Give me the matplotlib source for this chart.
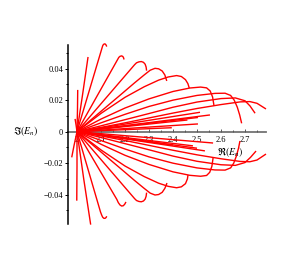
import matplotlib
matplotlib.use('Agg')
import matplotlib.pyplot as plt
from matplotlib.ticker import MultipleLocator

plt.rcParams['font.family'] = ['Liberation Serif', 'DejaVu Serif']
plt.rcParams['mathtext.fontset'] = 'stix'

# common start point of every trajectory
origin_x = 2.0
origin_y = 0.0

# upper fan (each ends in a hook)
up_x = [
    [2.0, 1.996, 1.992],
    [2.0, 2.002, 2.003],
    [2.0, 2.023, 2.046],
    [2.0, 2.104, 2.107, 2.110, 2.114, 2.118, 2.121, 2.124],
    [2.0, 2.170, 2.174, 2.179, 2.186, 2.191, 2.194, 2.196],
    [2.0, 2.240, 2.248, 2.258, 2.268, 2.277, 2.284, 2.288, 2.290],
    [2.0, 2.10, 2.18, 2.24, 2.28, 2.305, 2.325, 2.340, 2.355, 2.366, 2.374],
    [2.0, 2.10, 2.20, 2.28, 2.34, 2.38, 2.415, 2.435, 2.452, 2.462, 2.468],
    [2.0, 2.10, 2.20, 2.30, 2.40, 2.47, 2.515, 2.540, 2.555, 2.565, 2.571],
    [2.0, 2.10, 2.20, 2.30, 2.40, 2.50, 2.575, 2.617, 2.640, 2.655, 2.668, 2.678, 2.686],
    [2.0, 2.10, 2.20, 2.30, 2.40, 2.50, 2.60, 2.660, 2.700, 2.721, 2.742],
    [2.0, 2.10, 2.20, 2.30, 2.40, 2.50, 2.60, 2.68, 2.72, 2.75, 2.7875],
]
up_y = [
    [0, 0.0043, 0.0081],
    [0, 0.0138, 0.0265],
    [0, 0.0233, 0.0474],
    [0, 0.0530, 0.0545, 0.0553, 0.0557, 0.0556, 0.0550, 0.0540],
    [0, 0.0460, 0.0471, 0.0478, 0.0481, 0.0477, 0.0469, 0.0458],
    [0, 0.0425, 0.0437, 0.0443, 0.0445, 0.0440, 0.0428, 0.0410, 0.0387],
    [0, 0.0129, 0.0232, 0.0310, 0.0360, 0.0390, 0.0402, 0.0399, 0.0385, 0.0360, 0.0322],
    [0, 0.0116, 0.0218, 0.0285, 0.0327, 0.0347, 0.0356, 0.0350, 0.0330, 0.0305, 0.0276],
    [0, 0.0080, 0.0150, 0.0208, 0.0255, 0.0277, 0.0283, 0.0278, 0.0258, 0.0220, 0.0163],
    [0, 0.0056, 0.0110, 0.0160, 0.0200, 0.0230, 0.0243, 0.0244, 0.0230, 0.0200, 0.0155, 0.0105, 0.0053],
    [0, 0.0037, 0.0076, 0.0115, 0.0155, 0.0188, 0.0210, 0.0214, 0.0196, 0.0163, 0.0117],
    [0, 0.0027, 0.0056, 0.0087, 0.0118, 0.0147, 0.0172, 0.0189, 0.0191, 0.0180, 0.0144],
]

# lower fan
low_x = [
    [2.0, 1.988, 1.978],
    [2.0, 2.000, 1.999],
    [2.0, 2.028, 2.057],
    [2.0, 2.098, 2.103, 2.107, 2.112, 2.117, 2.121, 2.124],
    [2.0, 2.166, 2.172, 2.179, 2.186, 2.193, 2.199, 2.204],
    [2.0, 2.240, 2.248, 2.258, 2.268, 2.277, 2.284, 2.288, 2.290],
    [2.0, 2.10, 2.18, 2.24, 2.28, 2.305, 2.325, 2.340, 2.355, 2.366, 2.375],
    [2.0, 2.10, 2.20, 2.28, 2.34, 2.38, 2.415, 2.435, 2.452, 2.460, 2.4625],
    [2.0, 2.10, 2.20, 2.30, 2.40, 2.47, 2.515, 2.540, 2.553, 2.562, 2.567],
    [2.0, 2.10, 2.20, 2.30, 2.40, 2.50, 2.575, 2.617, 2.640, 2.653, 2.664, 2.673, 2.679],
    [2.0, 2.10, 2.20, 2.30, 2.40, 2.50, 2.60, 2.660, 2.700, 2.723, 2.746],
    [2.0, 2.10, 2.20, 2.30, 2.40, 2.50, 2.60, 2.68, 2.72, 2.75, 2.7875],
]
low_y = [
    [0, -0.0085, -0.0163],
    [0, -0.0220, -0.0438],
    [0, -0.0300, -0.0590],
    [0, -0.0510, -0.0530, -0.0543, -0.0550, -0.0550, -0.0545, -0.0537],
    [0, -0.0430, -0.0450, -0.0465, -0.0472, -0.0470, -0.0460, -0.0446],
    [0, -0.0425, -0.0437, -0.0443, -0.0445, -0.0440, -0.0428, -0.0410, -0.0387],
    [0, -0.0129, -0.0232, -0.0310, -0.0360, -0.0390, -0.0402, -0.0399, -0.0385, -0.0360, -0.0326],
    [0, -0.0116, -0.0218, -0.0285, -0.0327, -0.0347, -0.0356, -0.0350, -0.0330, -0.0300, -0.0275],
    [0, -0.0080, -0.0150, -0.0208, -0.0255, -0.0277, -0.0283, -0.0278, -0.0258, -0.0220, -0.0167],
    [0, -0.0056, -0.0110, -0.0160, -0.0200, -0.0230, -0.0243, -0.0244, -0.0230, -0.0200, -0.0155, -0.0105, -0.0059],
    [0, -0.0037, -0.0076, -0.0115, -0.0155, -0.0188, -0.0210, -0.0214, -0.0196, -0.0163, -0.0123],
    [0, -0.0027, -0.0056, -0.0087, -0.0118, -0.0147, -0.0172, -0.0189, -0.0191, -0.0180, -0.0142],
]

# near-axis bundle: end points of the short straight branches
ray_up_x = [2.5125, 2.554, 2.504, 2.460, 2.504, 2.395]
ray_up_y = [0.0123, 0.0106, 0.0090, 0.0074, 0.0049, 0.0025]
ray_low_x = [2.567, 2.483, 2.533, 2.400, 2.500]
ray_low_y = [-0.0072, -0.0090, -0.0122, -0.0085, -0.0105]

x_ticks = [2.0, 2.1, 2.2, 2.3, 2.4, 2.5, 2.6, 2.7]
x_tick_labels = ['2', '2.1', '2.2', '2.3', '2.4', '2.5', '2.6', '2.7']
y_ticks = [-0.04, -0.02, 0.0, 0.02, 0.04]
y_tick_labels = ['\u22120.04', '\u22120.02', '0', '0.02', '0.04']

fig = plt.figure(figsize=(2.89, 2.69), dpi=100)
ax = fig.add_axes([0.2353, 0.1673, 0.6851, 0.6654])

red = '#ff0000'
lw = 1.0
for xs, ys in zip(up_x, up_y):
    ax.plot(xs, ys, color=red, lw=lw, solid_capstyle='butt', clip_on=False)
for xs, ys in zip(low_x, low_y):
    ax.plot(xs, ys, color=red, lw=lw, solid_capstyle='butt', clip_on=False)
for xe, ye in zip(ray_up_x + ray_low_x, ray_up_y + ray_low_y):
    ax.plot([origin_x, xe], [origin_y, ye], color=red, lw=lw, solid_capstyle='butt')

ax.set_xlim(1.9625, 2.7875)
ax.set_ylim(-0.0586, 0.055)

ax.spines['top'].set_visible(False)
ax.spines['right'].set_visible(False)
ax.spines['bottom'].set_position(('data', 0))
ax.spines['bottom'].set_color('0.45')
ax.spines['bottom'].set_linewidth(1.3)
ax.spines['left'].set_linewidth(1.1)
ax.spines['bottom'].set_zorder(0.5)

ax.set_xticks(x_ticks)
ax.set_xticklabels(x_tick_labels)
ax.set_yticks(y_ticks)
ax.set_yticklabels(y_tick_labels)
ax.xaxis.set_minor_locator(MultipleLocator(0.05))
ax.yaxis.set_minor_locator(MultipleLocator(0.01))
ax.tick_params(axis='x', which='both', direction='in', length=2.5, width=0.7,
               color='0.35', labelsize=6, pad=3)
ax.tick_params(axis='x', which='minor', length=1.5)
ax.tick_params(axis='y', which='both', direction='out', length=2.5, width=0.7,
               labelsize=6, pad=1)
ax.tick_params(axis='y', which='minor', length=1.5)

fig.text(26 / 289, 1 - 131 / 269, r'$\Im(E_n)$', fontsize=7, ha='center', va='center')
fig.text(230 / 289, 1 - 152 / 269, r'$\Re(E_n)$', fontsize=7, ha='center', va='center')

fig.savefig('out.png', dpi=100)
